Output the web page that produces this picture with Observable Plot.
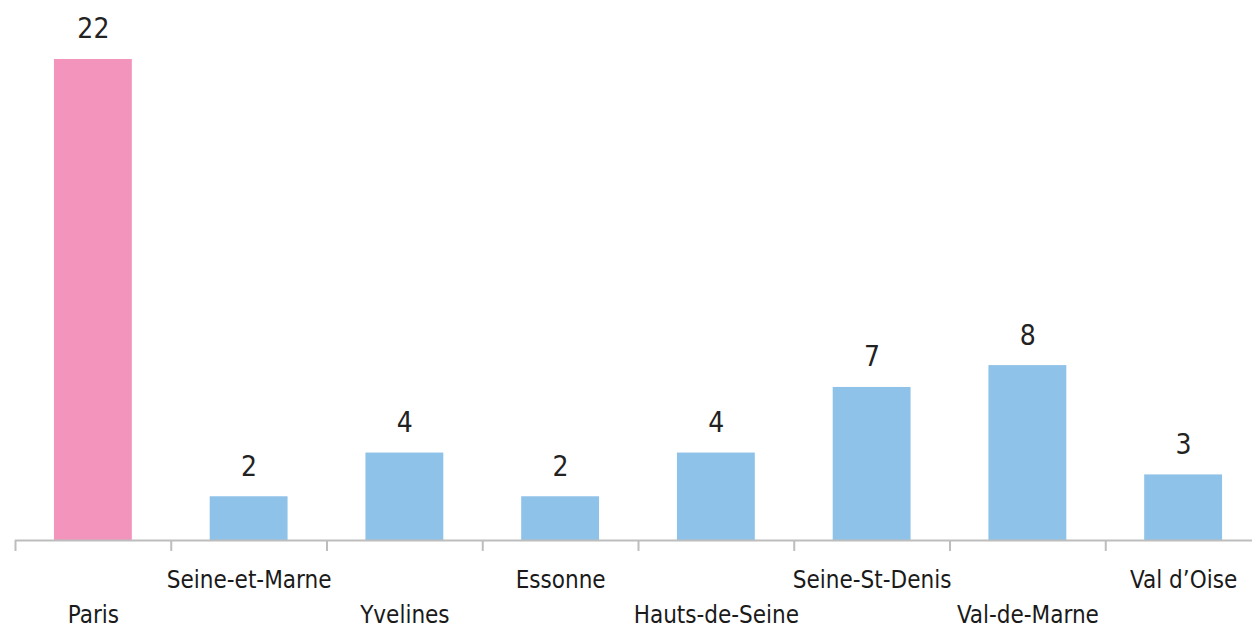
<!DOCTYPE html>
<html>
<head>
<meta charset="utf-8">
<script src="https://cdn.jsdelivr.net/npm/d3@7"></script>
<script src="https://cdn.jsdelivr.net/npm/@observablehq/plot@0.6"></script>
<style>
  html, body { margin: 0; padding: 0; background: #fff; overflow: hidden; }
  #chart svg { display: block; max-width: none !important; }
</style>
</head>
<body>
<div id="chart"></div>
<script>
const categories = ["Paris", "Seine-et-Marne", "Yvelines", "Essonne", "Hauts-de-Seine", "Seine-St-Denis", "Val-de-Marne", "Val d\u2019Oise"];
const values = [22, 2, 4, 2, 4, 7, 8, 3];
const highlight = ["Paris"];

const data = categories.map((c, i) => ({category: c, value: values[i], idx: i}));

const W = 1261, H = 629, ML = 15, MR = 0;
const step = (W - ML - MR) / categories.length;
const font = "'Liberation Sans Narrow', 'DejaVu Sans Condensed', 'Roboto', sans-serif";

const chart = Plot.plot({
  width: W,
  height: H,
  marginLeft: ML,
  marginRight: MR,
  marginTop: 0,
  marginBottom: 89,
  style: {fontFamily: font, background: "#fff"},
  x: {domain: categories, paddingInner: 0.5, paddingOuter: 0.25, round: false, axis: null},
  y: {domain: [0, 22], range: [540, 59], axis: null},
  marks: [
    Plot.barY(data, {
      x: "category", y: "value",
      fill: d => highlight.includes(d.category) ? "#f394bd" : "#8fc2e9"
    }),
    Plot.ruleY([0], {stroke: "#bdbdbd", strokeWidth: 2}),
    Plot.ruleX(data, {x: "category", dx: -step / 2, y1: 0, y2: -0.5, stroke: "#bdbdbd", strokeWidth: 2}),
    Plot.text(data, {
      x: "category", y: "value", text: d => String(d.value),
      dy: -30, fontSize: 28, fill: "#222", fontWeight: 300
    }),
    Plot.text(data.filter(d => d.idx % 2 === 1), {
      x: "category", y: 0, text: "category",
      dy: 40, fontSize: 24, fill: "#1a1a1a"
    }),
    Plot.text(data.filter(d => d.idx % 2 === 0), {
      x: "category", y: 0, text: "category",
      dy: 75, fontSize: 24, fill: "#1a1a1a"
    })
  ]
});
document.getElementById("chart").appendChild(chart);
</script>
</body>
</html>
